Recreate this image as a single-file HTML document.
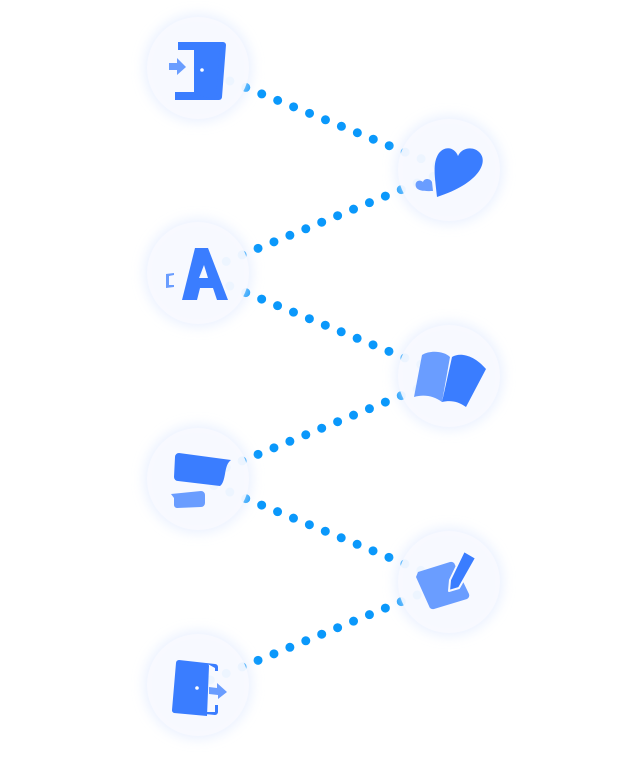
<!DOCTYPE html>
<html><head><style>
html,body{margin:0;padding:0;background:#fff;}
svg{display:block}
</style></head><body>
<svg width="622" height="758" viewBox="0 0 622 758" xmlns="http://www.w3.org/2000/svg">
<defs>
<filter id="g" x="-50%" y="-50%" width="200%" height="200%"><feGaussianBlur stdDeviation="6"/></filter>
</defs>
<g stroke="#0a98fb" stroke-width="9" stroke-linecap="round" stroke-dasharray="0 17.2" fill="none">
<line x1="198" y1="68" x2="449" y2="170"/>
<line x1="449" y1="170" x2="198" y2="273"/>
<line x1="198" y1="273" x2="449" y2="376"/>
<line x1="449" y1="376" x2="198" y2="479"/>
<line x1="198" y1="479" x2="449" y2="582"/>
<line x1="449" y1="582" x2="198" y2="685"/>
</g>
<g fill="#dce7ff" filter="url(#g)" opacity="0.6">
<circle cx="198" cy="68" r="54"/><circle cx="449" cy="170" r="54"/>
<circle cx="198" cy="273" r="54"/><circle cx="449" cy="376" r="54"/>
<circle cx="198" cy="479" r="54"/><circle cx="449" cy="582" r="54"/>
<circle cx="198" cy="685" r="54"/>
</g>
<g fill="#f8faff" fill-opacity="0.9">
<circle cx="198" cy="68" r="51"/><circle cx="449" cy="170" r="51"/>
<circle cx="198" cy="273" r="51"/><circle cx="449" cy="376" r="51"/>
<circle cx="198" cy="479" r="51"/><circle cx="449" cy="582" r="51"/>
<circle cx="198" cy="685" r="51"/>
</g>
<path d="M178 42 h45 a3 3 0 0 1 3 3 l-4 52 a3 3 0 0 1 -3 3 h-44 v-8 h40 l3-42 h-40z" fill="#3a7dff"/>
<path d="M194 50 l26-6 -4 56 -22-6z" fill="#3a7dff"/>
<circle cx="202" cy="70" r="1.8" fill="#fff"/>
<path d="M169 63 h8 v-5 l9 9 -9 8 v-5 h-8z" fill="#6a9dff"/>
<path d="M437 197 c-2-20-5-34 2-44 c7-8 16-5 19 3 c4-9 16-10 22-3 c8 9 0 30-43 44z" fill="#3a7dff"/>
<path d="M433 191 c-4 0-15 1-17-4 c-2-6 4-8 7-5 c1-4 7-4 9 0z" fill="#6a9dff"/>
<path d="M182 300 l13-52 h13 l20 52 h-11 l-4-12 h-13 l-3 12z M199 278 h9 l-4-13z" fill="#3a7dff" fill-rule="evenodd"/>
<path d="M166 274 l8-1 v2 l-5 1 v9 l5 0 v2 l-8 1z" fill="#6a9dff"/>
<path d="M422 355 c8-5 22-4 28 2 l-8 45 c-8-6-18-8-28-5z" fill="#6a9dff"/>
<path d="M452 357 c8-5 22-2 34 12 l-20 38 c-8-6-16-7-24-5z" fill="#3a7dff"/>
<path d="M179 453 l52 7 c-4 3-5 8-6 14 c-1 5-2 10-5 12 l-42-5 a4 4 0 0 1-4-4 l1-20 a4 4 0 0 1 4-4z" fill="#3a7dff"/>
<path d="M171 494 l30-3 a4 4 0 0 1 4 4 l0 8 a4 4 0 0 1-4 4 l-24 1 a3 3 0 0 1-3-3 l0-7z" fill="#6a9dff"/>
<path d="M418 572 l32-10 a4 4 0 0 1 5 3 l14 29 a4 4 0 0 1-2 5 l-33 10 a4 4 0 0 1-5-3 l-13-29z" fill="#6a9dff"/>
<path d="M464 551 l12 7 -17 30 -10 3 1-11z" fill="#3a7dff" stroke="#f8faff" stroke-width="2" stroke-linejoin="round"/>
<path d="M179 660 l27 3 a3 3 0 0 1 3 3 l-2 50 -33-3 a3 3 0 0 1-2-3 l4-47 a3 3 0 0 1 3-3z" fill="#3a7dff"/>
<path d="M206 663 l9 1 a3 3 0 0 1 3 3 v4 h-3 v-3z M215 705 h3 v7 a3 3 0 0 1-3 3 l-10-1 v-2 l10 0z" fill="#3a7dff"/>
<circle cx="197" cy="688" r="1.8" fill="#fff"/>
<path d="M209 687 l8 1 v-5 l10 9 -9 7 v-4 l-9-1z" fill="#6a9dff"/>
</svg>
</body></html>
